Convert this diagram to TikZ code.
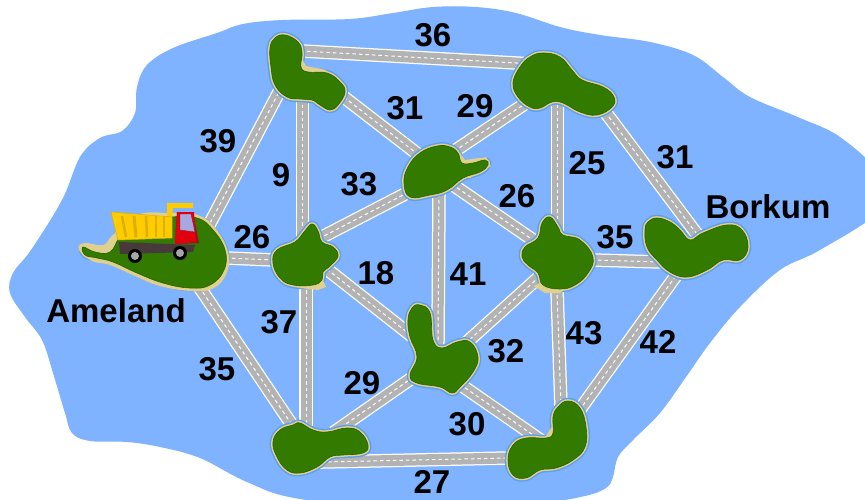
\documentclass[tikz,border=0pt]{standalone}
\usepackage{fontspec}
\setmainfont{Liberation Sans}
\definecolor{sea}{HTML}{7FB2FF}
\definecolor{halo}{HTML}{5C9EF2}
\definecolor{sand}{HTML}{E0D08E}
\definecolor{land}{HTML}{337A00}
\definecolor{landedge}{HTML}{2A6200}
\definecolor{roadgray}{HTML}{B3B3B3}
\definecolor{tipper}{HTML}{FFCC00}
\definecolor{tipperdark}{HTML}{E0AE00}
\definecolor{chassis}{HTML}{483A3C}
\definecolor{cab}{HTML}{E00010}
\definecolor{cabdark}{HTML}{A01018}
\definecolor{glass}{HTML}{A8A8E0}
\tikzset{
  road/.style={draw=white,line width=13.5pt,shorten <=-8pt,shorten >=-8pt,
    postaction={draw=roadgray,line width=11pt,shorten <=-8pt,shorten >=-8pt},
    postaction={draw=white,line width=1pt,dash pattern=on 3.5pt off 3pt,shorten <=-8pt,shorten >=-8pt}},
  lbl/.style={font=\fontsize{33}{33}\selectfont\bfseries,text=black,inner sep=0pt},
  halostroke/.style={draw=halo,line width=6.5pt,line join=round},
  sandstroke/.style={draw=sand,line width=3.6pt,line join=round},
  landfill/.style={fill=land,draw=landedge,line width=.6pt},
  sandspot/.style={fill=sand},
  smoothc/.style={smooth cycle,tension=.72}
}
\newcommand{\isle}[2]{%
  \draw[halostroke] plot[smoothc] coordinates {#1};
  #2
  \draw[sandstroke] plot[smoothc] coordinates {#1};
  \draw[landfill] plot[smoothc] coordinates {#1};
}
\begin{document}
\begin{tikzpicture}[x=1pt,y=-1pt]
\clip (0,0) rectangle (865,500);
\fill[white] (0,0) rectangle (865,500);
% island reference points
\coordinate (ameland) at (170,250);
\coordinate (nw) at (302,60);
\coordinate (ne) at (557,68);
\coordinate (mid) at (438,170);
\coordinate (west) at (304,255);
\coordinate (east) at (557,259);
\coordinate (borkum) at (696,250);
\coordinate (south) at (438,350);
\coordinate (sw) at (306,445);
\coordinate (se) at (560,445);
% sea
\fill[sea] plot[smooth cycle,tension=.6] coordinates {
 (31,250) (62,200) (80,157) (100,138) (122,131) (135,113) (137,87) (147,65) (173,48) (217,33) (243,24)
 (283,20) (350,19) (393,13) (433,7) (476,7) (516,13) (560,27) (600,35) (650,42) (693,55) (723,77) (750,97)
 (800,118) (840,137) (880,175) (880,210) (820,250) (780,270) (740,307) (710,343) (686,377) (660,413) (633,440)
 (618,457) (613,477) (606,488) (585,496) (540,503) (430,512) (300,499) (247,482) (200,458) (160,447) (127,442)
 (90,441) (72,433) (65,413) (53,373) (42,340) (25,317) (10,293) (13,273)};
% roads
\draw[road] ([shift={(38,-23)}]ameland.center) -- ([shift={(-23,32)}]nw.center);
\draw[road] ([shift={(0,-9)}]nw.center) -- ([shift={(-41,-5)}]ne.center);
\draw[road] ([shift={(.5,40)}]nw.center) -- ([shift={(-1.5,-15)}]west.center);
\draw[road] ([shift={(43,38)}]nw.center) -- ([shift={(-23,-18)}]mid.center);
\draw[road] ([shift={(-31,35)}]ne.center) -- ([shift={(18,-20)}]mid.center);
\draw[road] ([shift={(.5,32)}]ne.center) -- ([shift={(.5,-29)}]east.center);
\draw[road] ([shift={(49,45)}]ne.center) -- ([shift={(0,-17)}]borkum.center);
\draw[road] ([shift={(-31,23)}]mid.center) -- ([shift={(18,-18)}]west.center);
\draw[road] ([shift={(15,15)}]mid.center) -- ([shift={(-24,-19)}]east.center);
\draw[road] ([shift={(1,25)}]mid.center) -- ([shift={(0,-10)}]south.center);
\draw[road] ([shift={(57,8)}]ameland.center) -- ([shift={(-31,5)}]west.center);
\draw[road] ([shift={(24,15)}]west.center) -- ([shift={(-30,-17)}]south.center);
\draw[road] ([shift={(2,30)}]west.center) -- ([shift={(0,-15)}]sw.center);
\draw[road] ([shift={(30,38)}]ameland.center) -- ([shift={(-14,-20)}]sw.center);
\draw[road] ([shift={(-26,28)}]south.center) -- ([shift={(34,-17)}]sw.center);
\draw[road] ([shift={(28,-7)}]south.center) -- ([shift={(-19,19)}]east.center);
\draw[road] ([shift={(23,35)}]south.center) -- ([shift={(-24,-8)}]se.center);
\draw[road] ([shift={(17,17)}]sw.center) -- ([shift={(-52,13)}]se.center);
\draw[road] ([shift={(36,1)}]east.center) -- ([shift={(-36,12)}]borkum.center);
\draw[road] ([shift={(0,31)}]east.center) -- ([shift={(1,-38)}]se.center);
\draw[road] ([shift={(-21,27)}]borkum.center) -- ([shift={(21,-37)}]se.center);
% islands
\isle{(83,247) (95,252) (110,252) (120,237) (137,220) (170,217) (197,218) (213,230) (225,250) (224,270) (210,285) (190,288) (163,283) (137,273) (113,262) (97,258) (85,255)}
 {\fill[sandspot] plot[smoothc] coordinates {(79,250) (84,243) (103,245) (113,235) (137,215) (170,213) (198,215) (216,229) (228,252) (227,272) (214,288) (192,291) (160,286) (135,276) (110,265) (92,261)};}
\isle{(285,35) (298,42) (302,53) (301,67) (308,72) (327,73) (340,82) (345,92) (338,105) (330,110) (320,105) (312,100) (300,99) (287,97) (275,85) (271,67) (270,48) (275,38)}
 {\fill[sandspot] (300,55) -- (306,66) -- (326,70) -- (330,80) -- (300,80) -- cycle;}
\isle{(543,53) (560,57) (572,70) (582,80) (603,87) (614,97) (612,107) (597,115) (580,112) (563,103) (552,102) (540,108) (530,107) (518,97) (513,83) (520,67) (530,57)}{}
\isle{(437,146) (450,147) (458,153) (462,163) (473,163) (485,160) (488,165) (480,172) (463,178) (447,190) (430,195) (410,197) (404,183) (408,167) (420,153)}
 {\fill[sandspot] (458,150) -- (465,160) -- (486,157) -- (491,166) -- (470,178) -- (450,178) -- cycle;}
\isle{(312,224) (318,231) (322,242) (333,247) (338,256) (330,266) (323,272) (322,280) (313,285) (293,285) (280,278) (273,263) (277,250) (295,242) (304,232)}
 {\fill[sandspot] (300,285) -- (322,278) -- (326,287) -- (318,290) -- (300,288) -- cycle;}
\isle{(550,217) (558,227) (563,235) (580,240) (593,257) (588,273) (575,285) (560,289) (543,285) (538,273) (528,265) (522,257) (525,247) (538,238) (542,223)}
 {\fill[sandspot] (534,286) -- (545,280) -- (570,285) -- (560,293) -- (545,293) -- cycle;}
\isle{(657,218) (670,222) (680,230) (690,240) (703,233) (727,225) (742,230) (748,247) (740,260) (723,260) (707,270) (687,277) (670,272) (657,260) (647,247) (645,230) (648,222)}{}
\isle{(420,305) (430,313) (433,340) (442,348) (457,342) (470,342) (478,357) (473,372) (460,387) (452,393) (440,387) (417,383) (410,375) (417,357) (410,337) (408,320) (412,308)}{}
\isle{(300,423) (313,430) (327,432) (347,428) (360,432) (368,445) (363,453) (343,455) (330,457) (317,467) (300,473) (287,470) (277,457) (273,442) (280,430) (293,425)}{}
\isle{(568,401) (580,408) (586,427) (585,447) (573,460) (556,468) (540,470) (526,478) (513,475) (508,460) (513,445) (526,438) (546,438) (553,433) (553,417) (558,407)}
 {\fill[sandspot] (546,436) -- (553,425) -- (560,440) -- (550,442) -- cycle;}
% truck
\fill[tipper] (167,203) -- (193,203) -- (193,208) -- (173,208) -- (172,217) -- (167,216) -- cycle;
\fill[chassis] (119,242) -- (195,245) -- (193,252) -- (120,254) -- cycle;
\fill[tipper,draw=tipperdark,line width=.5pt] (111,212) -- (172,217) -- (172,238) -- (118,240) -- cycle;
\foreach \xa/\xb/\w in {122/126/2.5,134/136/3,146/147/2.5,156/156/2.5,164/164/2.5}
  \draw[tipperdark,line width=\w pt] (\xa,216) -- (\xb,237);
\fill[cabdark] (193,212) -- (199,243) -- (175,244) -- (177,212) -- cycle;
\fill[cab] (177,212) -- (194,212) -- (196,242) -- (175,244) -- cycle;
\fill[glass,draw=cabdark,line width=.4pt] (180,214) -- (191,214) -- (195,232) -- (180,230) -- cycle;
\fill[black] (135,256) circle (7);
\fill[black] (180,253) circle (7);
\fill[gray!70] (135,256) circle (4);
\fill[gray!70] (180,253) circle (4);
% labels
\node[lbl] (l1) at (433,35) {36};
\node[lbl] (l2) at (218,141) {39};
\node[lbl] (l3) at (281,175) {9};
\node[lbl] (l4) at (405,108) {31};
\node[lbl] (l5) at (475,106) {29};
\node[lbl] (l6) at (359,184) {33};
\node[lbl] (l7) at (517,196) {26};
\node[lbl] (l8) at (587,163) {25};
\node[lbl] (l9) at (675,157) {31};
\node[lbl] (l10) at (768,207) {Borkum};
\node[lbl] (l11) at (615,237) {35};
\node[lbl] (l12) at (252,237) {26};
\node[lbl] (l13) at (376,273) {18};
\node[lbl] (l14) at (468,274) {41};
\node[lbl] (l15) at (279,322) {37};
\node[lbl] (l16) at (217,369) {35};
\node[lbl] (l17) at (116,311) {Ameland};
\node[lbl] (l18) at (362,383) {29};
\node[lbl] (l19) at (506,351) {32};
\node[lbl] (l20) at (584,333) {43};
\node[lbl] (l21) at (658,342) {42};
\node[lbl] (l22) at (467,424) {30};
\node[lbl] (l23) at (432,482) {27};
\end{tikzpicture}
\end{document}
